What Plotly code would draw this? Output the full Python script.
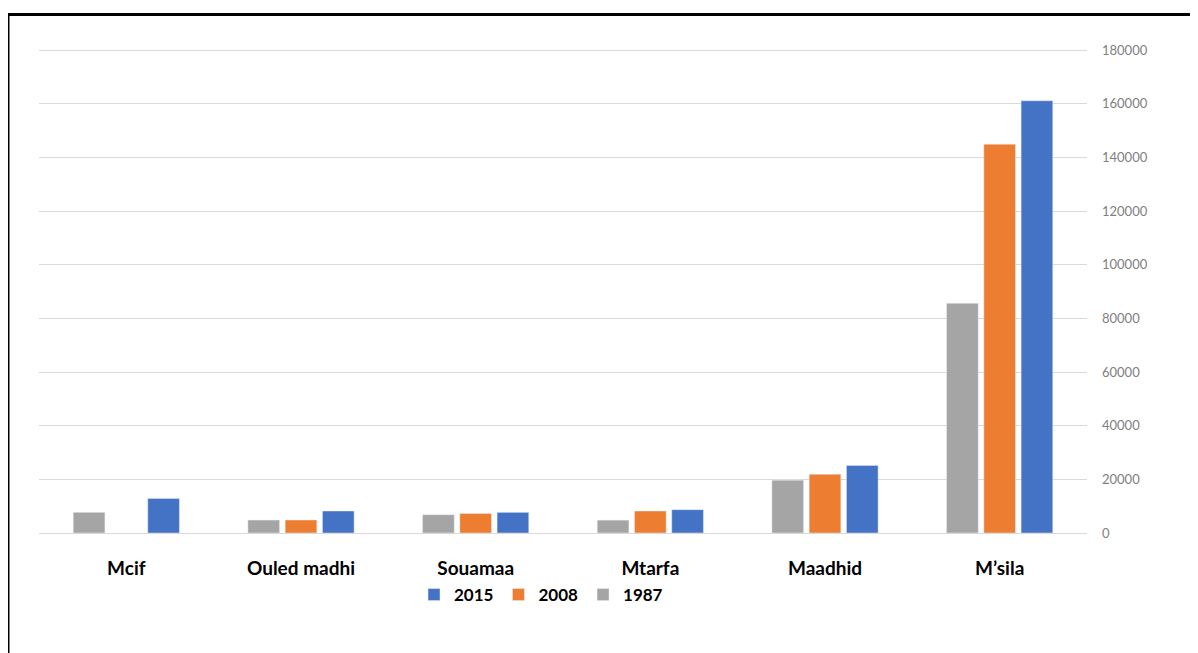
import plotly.graph_objects as go

# communes and population by census year
communes = ["Mcif", "Ouled madhi", "Souamaa", "Mtarfa", "Maadhid", "M\u2019sila"]
pop_1987 = [7700, 4800, 6800, 4800, 19700, 85600]
pop_2008 = [None, 4850, 7300, 8200, 21900, 144900]
pop_2015 = [12900, 8200, 7700, 8700, 25200, 161100]

fig = go.Figure()
fig.add_trace(go.Bar(x=communes, y=pop_1987, name="1987", marker_color="#A5A5A5"))
fig.add_trace(go.Bar(x=communes, y=pop_2008, name="2008", marker_color="#ED7D31"))
fig.add_trace(go.Bar(x=communes, y=pop_2015, name="2015", marker_color="#4472C4"))

# page has an 8px body offset; plot area on the page: x 39..1087, y 46..533
# (top of range a few px above 180000 so that gridline is drawn at y=50)
OFF = 8
L, R, T, B = 39 - OFF, 1087 - OFF, 46 - OFF, 533 - OFF
W, H = 1190, 645
YMAX = 180000 * (B - T) / (B - T - 4)
def px(x):
    return (x - OFF - L) / (R - L)
def py(y):
    return (B - (y - OFF)) / (B - T)

fig.update_layout(
    width=W, height=H,
    margin=dict(l=L, r=W - R, t=T, b=H - B),
    paper_bgcolor="white", plot_bgcolor="white",
    barmode="group", bargap=0.36, bargroupgap=0.15,
    font=dict(family="Lato, 'Open Sans', sans-serif"),
    legend=dict(orientation="h", traceorder="reversed",
                x=px(541), xanchor="center", y=py(595), yanchor="middle",
                font=dict(size=17, color="black", weight="bold"),
                itemwidth=30, bgcolor="rgba(0,0,0,0)"),
    showlegend=True,
)
fig.update_xaxes(showgrid=False, showline=False, ticks="",
                 tickfont=dict(size=19, color="black", weight="bold"),
                 ticklabelstandoff=22)
fig.update_yaxes(side="right", range=[0, YMAX], tickvals=list(range(0, 180001, 20000)),
                 tickformat="d",
                 showgrid=True, gridcolor="#D9D9D9", gridwidth=1,
                 zeroline=True, zerolinecolor="#D9D9D9", zerolinewidth=1,
                 showline=False, ticks="",
                 tickfont=dict(size=13, color="#808080"),
                 ticklabelstandoff=14)

# frame around the picture
fig.add_shape(type="rect", xref="paper", yref="paper",
              x0=px(8), x1=px(1215), y0=py(670), y1=py(14.5),
              line=dict(color="black", width=3), fillcolor="rgba(0,0,0,0)")

fig.write_html("out.html")
